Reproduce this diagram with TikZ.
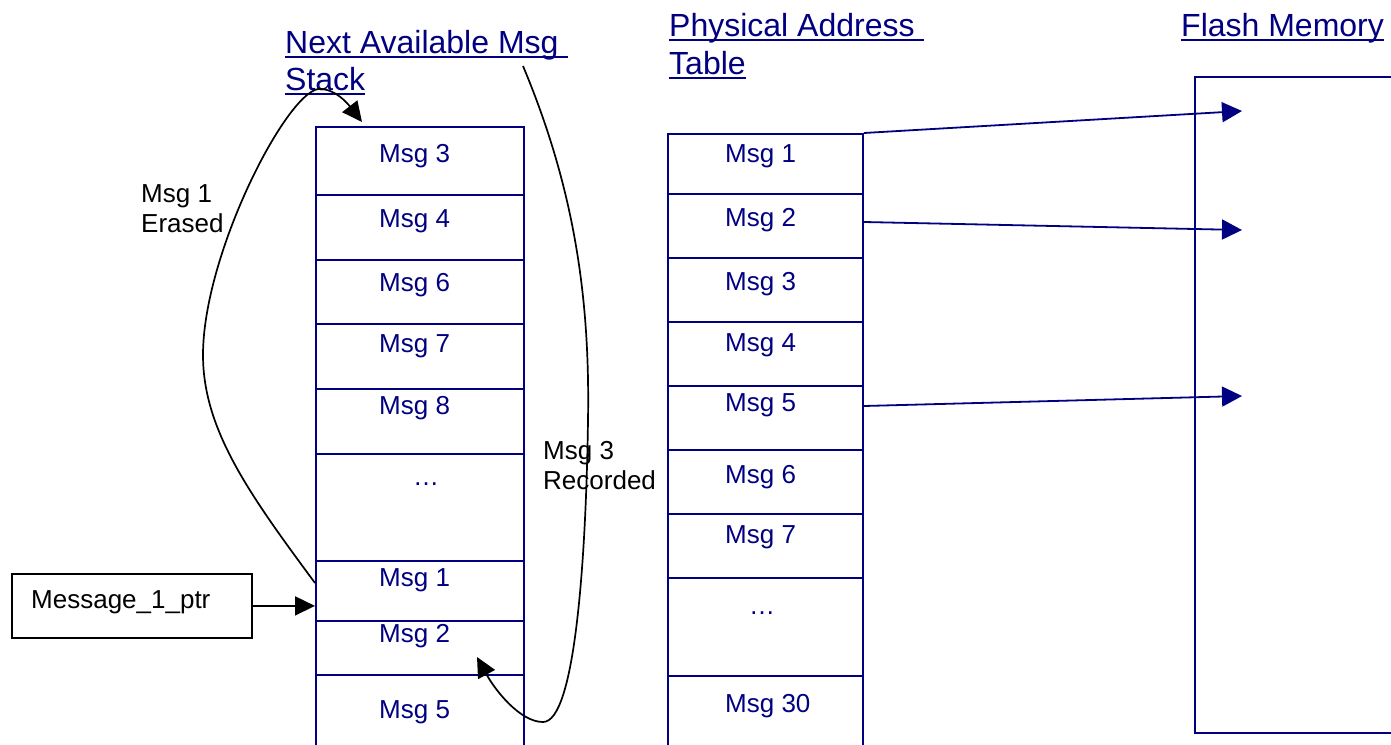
\documentclass[tikz,border=0pt]{standalone}
\usepackage{fontspec}
\setmainfont{Liberation Sans}
\usetikzlibrary{arrows.meta,calc}
\definecolor{navy}{RGB}{0,0,128}
\tikzset{
  cellbox/.style={draw=navy, line width=2pt, anchor=north west, inner sep=0pt},
  lcell/.style={cellbox, minimum width=208pt},
  mcell/.style={cellbox, minimum width=195pt},
  celltext/.style={navy, anchor=base west, inner sep=0pt, font=\fontsize{26}{31}\selectfont},
  heading/.style={navy, anchor=base west, inner sep=0pt, font=\fontsize{32}{37}\selectfont},
  headline/.style={navy, line width=2.7pt},
  notetext/.style={black, anchor=north west, inner sep=0pt, align=left, font=\fontsize{26}{30}\selectfont},
  navyarrow/.style={navy, line width=1.8pt, -{Triangle[length=20pt,width=20pt]}},
  blackarrow/.style={black, line width=1.7pt, -{Triangle[length=20pt,width=19pt]}},
}
\begin{document}
\begin{tikzpicture}[x=1pt, y=-1pt]
\useasboundingbox (0,0) rectangle (1391,744);

% headings with their underlines
\node[heading] (h1a) at (285,53) {Next Available Msg};
\node[heading] (h1b) at (285,90) {Stack};
\node[heading] (h2a) at (669,36) {Physical Address};
\node[heading] (h2b) at (669,74) {Table};
\node[heading] (h3)  at (1181,36) {Flash Memory};
\draw[headline] ([yshift=-4pt]h1a.base west) -- ([yshift=-4pt,xshift=9pt]h1a.base east);
\draw[headline] ([yshift=-4pt]h1b.base west) -- ([yshift=-4pt]h1b.base east);
\draw[headline] ([yshift=-4pt]h2a.base west) -- ([yshift=-4pt,xshift=9pt]h2a.base east);
\draw[headline] ([yshift=-4pt]h2b.base west) -- ([yshift=-4pt]h2b.base east);
\draw[headline] ([yshift=-4pt]h3.base west) -- ([yshift=-4pt]h3.base east);

% next available message stack
\node[lcell, minimum height=68pt]  (l1) at (315,126) {};
\node[lcell, minimum height=65pt]  (l2) at (315,194) {};
\node[lcell, minimum height=64pt]  (l3) at (315,259) {};
\node[lcell, minimum height=65pt]  (l4) at (315,323) {};
\node[lcell, minimum height=65pt]  (l5) at (315,388) {};
\node[lcell, minimum height=107pt] (l6) at (315,453) {};
\node[lcell, minimum height=60pt]  (l7) at (315,560) {};
\node[lcell, minimum height=54pt]  (l8) at (315,620) {};
\node[lcell, minimum height=78pt]  (l9) at (315,674) {};
\node[celltext] (lt1) at (379,162) {Msg 3};
\node[celltext] (lt2) at (379,227) {Msg 4};
\node[celltext] (lt3) at (379,291) {Msg 6};
\node[celltext] (lt4) at (379,352) {Msg 7};
\node[celltext] (lt5) at (379,414) {Msg 8};
\node[celltext] (lt6) at (413,485) {…};
\node[celltext] (lt7) at (379,586) {Msg 1};
\node[celltext] (lt8) at (379,642) {Msg 2};
\node[celltext] (lt9) at (379,718) {Msg 5};

% physical address table
\node[mcell, minimum height=60pt] (m1) at (667,133) {};
\node[mcell, minimum height=64pt] (m2) at (667,193) {};
\node[mcell, minimum height=64pt] (m3) at (667,257) {};
\node[mcell, minimum height=64pt] (m4) at (667,321) {};
\node[mcell, minimum height=64pt] (m5) at (667,385) {};
\node[mcell, minimum height=64pt] (m6) at (667,449) {};
\node[mcell, minimum height=64pt] (m7) at (667,513) {};
\node[mcell, minimum height=98pt] (m8) at (667,577) {};
\node[mcell, minimum height=77pt] (m9) at (667,675) {};
\node[celltext] (mt1) at (725,162) {Msg 1};
\node[celltext] (mt2) at (725,226) {Msg 2};
\node[celltext] (mt3) at (725,290) {Msg 3};
\node[celltext] (mt4) at (725,351) {Msg 4};
\node[celltext] (mt5) at (725,411) {Msg 5};
\node[celltext] (mt6) at (725,483) {Msg 6};
\node[celltext] (mt7) at (725,543) {Msg 7};
\node[celltext] (mt8) at (749,614) {…};
\node[celltext] (mt9) at (725,712) {Msg 30};

% flash memory: open to the right, running up to the page edge
\coordinate (fne) at (1391,77);
\coordinate (fnw) at (1195,77);
\coordinate (fsw) at (1195,733);
\coordinate (fse) at (1391,733);
\draw[navy, line width=2pt] (fne) -- (fnw) -- (fsw) -- (fse);
\coordinate (f1) at (1242,111);
\coordinate (f2) at (1242,230);
\coordinate (f3) at (1242,396);
\draw[navyarrow] (m1.north east) -- (f1);
\draw[navyarrow] ([yshift=4pt]m2.east) -- (f2);
\draw[navyarrow] ([yshift=12pt]m5.east) -- (f3);

% message pointer
\node[draw, black, line width=1.8pt, anchor=north west, inner sep=0pt,
      minimum width=240pt, minimum height=64pt] (ptr) at (11,573) {};
\node[black, anchor=base west, inner sep=0pt, font=\fontsize{26}{30}\selectfont]
      (ptrtext) at (31,608) {Message\_1\_ptr};
\draw[blackarrow] (ptr.east) -- (ptr.east -| l7.west);

% erased message goes back onto the stack
\node[notetext] (erased) at (141,184) {Msg 1\\Erased};
\coordinate (c1end) at (362,122);
\draw[blackarrow] ([yshift=8pt]l7.west)
  .. controls (250,495) and (203,430) .. (203,355)
  .. controls (203,255) and (285,95) .. (318,89)
  .. controls (335,88) and (348,104) .. (c1end);

% top of stack taken for a recorded message
\node[notetext] (recorded) at (543,441) {Msg 3\\Recorded};
\coordinate (c2start) at (523,66);
\coordinate (c2end) at (477,657);
\draw[blackarrow] (c2start)
  .. controls (575,190) and (590,300) .. (588,420)
  .. controls (586,560) and (575,722) .. (543,722)
  .. controls (520,722) and (495,690) .. (c2end);
\end{tikzpicture}
\end{document}
